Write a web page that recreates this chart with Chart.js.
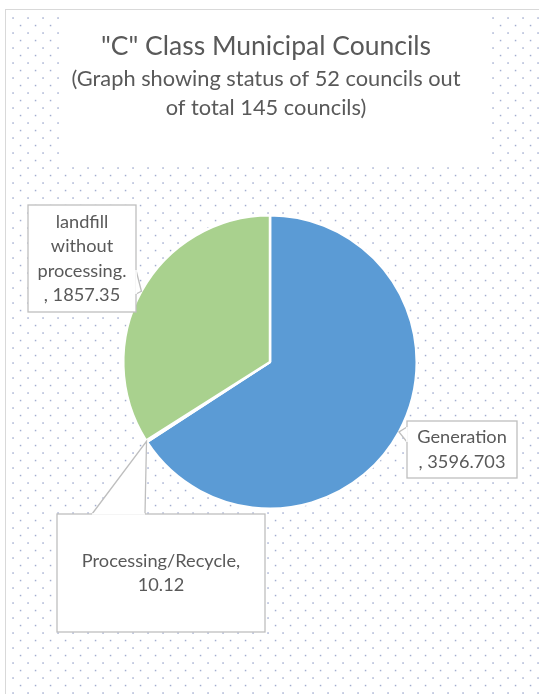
<!DOCTYPE html>
<html>
<head>
<meta charset="utf-8">
<script src="https://cdn.jsdelivr.net/npm/chart.js@4/dist/chart.umd.min.js"></script>
<style>
  html, body { margin: 0; padding: 0; background: #fff; }
  #wrap { width: 539px; height: 694px; position: relative; }
</style>
</head>
<body>
<div id="wrap"><canvas id="pieChart" width="539" height="694"></canvas></div>
<script>
// data
const categories = ['Generation', 'Processing/Recycle', 'landfill without processing.'];
const values = [3596.703, 10.12, 1857.35];
const sliceColors = ['#5B9BD5', '#ED7D31', '#A9D18E'];

const titleLines = ['"C" Class Municipal Councils'];
const subtitleLines = ['(Graph showing status of 52 councils out', 'of total 145 councils)'];

const FONT = 'Lato, "Open Sans", sans-serif';
const TEXT = '#595959';

// how each callout text is broken into lines
function calloutLines(i) {
    const v = String(values[i]);
    if (i === 0) return [categories[0], ', ' + v];
    if (i === 1) return [categories[1] + ',', v];
    return categories[2].split(' ').concat([', ' + v]);
}

// callout boxes (layout only): x, y, w, h, line gap, and where the pointer leaves the box
const callouts = [
    { box: [407, 421, 110, 57], gap: 25, base: [[407, 427], [407, 442]] },
    { box: [57, 514, 208, 118], gap: 24, base: [[92, 514], [145, 514]] },
    { box: [28, 205, 108, 107], gap: 24.5, base: [[136, 270], [136, 294]] }
];

const backgroundPlugin = {
    id: 'chartBackground',
    beforeDraw(chart) {
        const ctx = chart.ctx;
        ctx.save();
        ctx.fillStyle = '#fff';
        ctx.fillRect(0, 0, chart.width, chart.height);
        // dotted pattern fill
        ctx.fillStyle = '#a3aed0';
        let row = 0;
        for (let y = 18; y < chart.height; y += 7.5, row++) {
            const start = row % 2 === 0 ? 13 : 20.5;
            for (let x = start; x < chart.width; x += 15) {
                ctx.fillRect(x - 0.7, y - 0.7, 1.5, 1.5);
            }
        }
        // outer border
        ctx.strokeStyle = '#d9d9d9';
        ctx.lineWidth = 1;
        ctx.strokeRect(5.5, 9.5, chart.width + 10, chart.height + 10);
        // title area
        ctx.fillStyle = '#fff';
        ctx.fillRect(60, 12, 431, 150);
        ctx.fillStyle = TEXT;
        ctx.textAlign = 'center';
        ctx.textBaseline = 'middle';
        ctx.font = '26.5px ' + FONT;
        titleLines.forEach((t, k) => ctx.fillText(t, 266, 46 + k * 30));
        ctx.font = '21.8px ' + FONT;
        subtitleLines.forEach((t, k) => ctx.fillText(t, 266, 79 + k * 29));
        ctx.restore();
    }
};

const calloutPlugin = {
    id: 'callouts',
    afterDatasetsDraw(chart) {
        const ctx = chart.ctx;
        const arcs = chart.getDatasetMeta(0).data;
        ctx.save();
        arcs.forEach((arc, i) => {
            const p = arc.getProps(['x', 'y', 'startAngle', 'endAngle', 'outerRadius'], true);
            const mid = (p.startAngle + p.endAngle) / 2;
            const tx = p.x + Math.cos(mid) * p.outerRadius;
            const ty = p.y + Math.sin(mid) * p.outerRadius;
            const c = callouts[i];
            const [bx, by, bw, bh] = c.box;

            ctx.fillStyle = '#fff';
            ctx.strokeStyle = '#bfbfbf';
            ctx.lineWidth = 1.3;
            ctx.fillRect(bx, by, bw, bh);
            ctx.strokeRect(bx, by, bw, bh);
            // pointer
            ctx.beginPath();
            ctx.moveTo(c.base[0][0], c.base[0][1]);
            ctx.lineTo(tx, ty);
            ctx.lineTo(c.base[1][0], c.base[1][1]);
            ctx.fill();
            ctx.stroke();
            ctx.beginPath();
            ctx.moveTo(c.base[0][0], c.base[0][1]);
            ctx.lineTo(c.base[1][0], c.base[1][1]);
            ctx.strokeStyle = '#fff';
            ctx.lineWidth = 1.6;
            ctx.stroke();

            const lines = calloutLines(i);
            ctx.fillStyle = TEXT;
            ctx.font = '18.2px ' + FONT;
            ctx.textAlign = 'center';
            ctx.textBaseline = 'middle';
            const cy = by + bh / 2 - (lines.length - 1) * c.gap / 2;
            lines.forEach((t, k) => ctx.fillText(t, bx + bw / 2, cy + k * c.gap));
        });
        ctx.restore();
    }
};

new Chart(document.getElementById('pieChart').getContext('2d'), {
    type: 'pie',
    data: {
        labels: categories,
        datasets: [{
            data: values,
            backgroundColor: sliceColors,
            borderColor: '#fff',
            borderWidth: 2.5
        }]
    },
    options: {
        responsive: false,
        animation: false,
        layout: { padding: { left: 122, right: 121, top: 214, bottom: 184 } },
        plugins: {
            legend: { display: false },
            tooltip: { enabled: false },
            title: { display: false }
        }
    },
    plugins: [backgroundPlugin, calloutPlugin]
});
</script>
</body>
</html>
